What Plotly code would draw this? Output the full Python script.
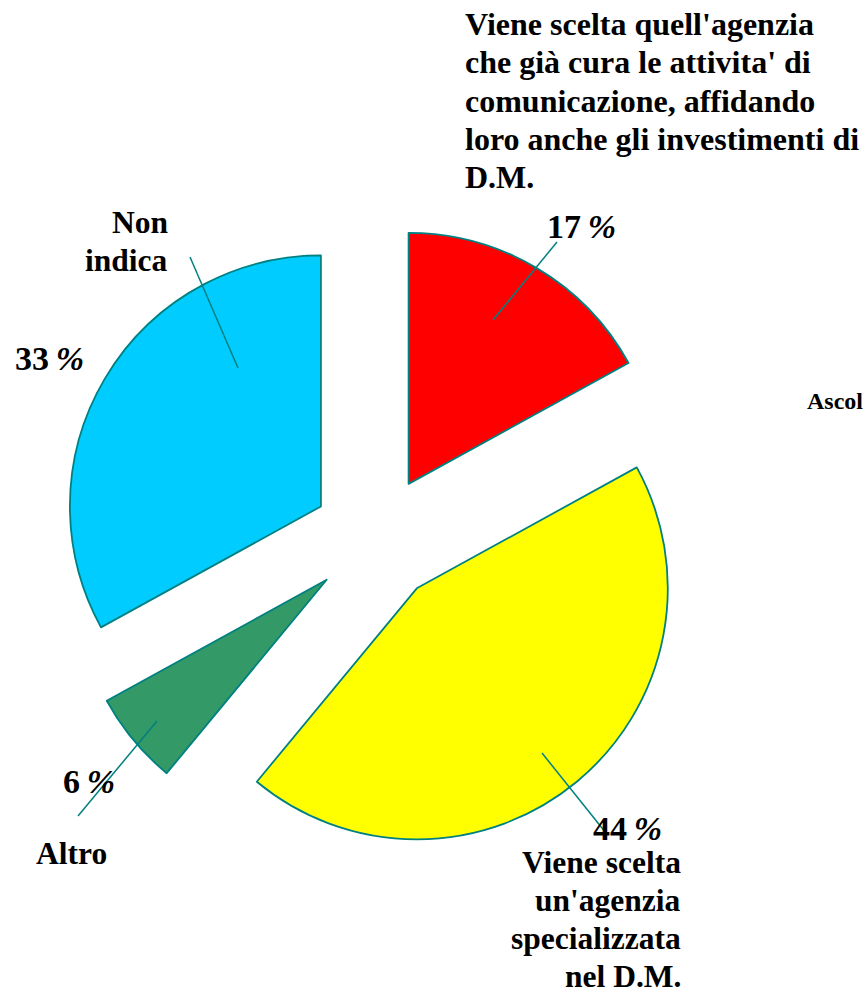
import plotly.graph_objects as go

# --- data -------------------------------------------------------------
categories = [
    "Viene scelta quell'agenzia che già cura le attivita' di comunicazione, affidando loro anche gli investimenti di D.M.",
    "Viene scelta un'agenzia specializzata nel D.M.",
    "Altro",
    "Non indica",
]
label_lines = [
    ["Viene scelta quell'agenzia", "che già cura le attivita' di",
     "comunicazione, affidando", "loro anche gli investimenti di", "D.M."],
    ["Viene scelta", "un'agenzia", "specializzata", "nel D.M."],
    ["Altro"],
    ["Non", "indica"],
]
values = [17, 44, 6, 33]
slice_colors = ["#FF0000", "#FFFF00", "#339966", "#00CCFF"]
side_note = "Ascol"

# --- page / styling ----------------------------------------------------
W, H = 865, 995
FONT = "Liberation Serif"
EDGE = "#008080"
PULL = 0.255
CX, CY, BOX = 376, 539, 630          # pie box centre and size (px)


def px(x):
    return x / W


def py(y):
    return 1 - y / H


fig = go.Figure(go.Pie(
    labels=categories,
    values=values,
    marker=dict(colors=slice_colors, line=dict(color=EDGE, width=1.8)),
    pull=[PULL] * len(values),
    sort=False,
    direction="clockwise",
    rotation=0,
    textinfo="none",
    hoverinfo="label+percent",
    showlegend=False,
    domain=dict(x=[px(CX - BOX / 2), px(CX + BOX / 2)],
                y=[py(CY + BOX / 2), py(CY - BOX / 2)]),
))

annotations = []
shapes = []


def text_block(lines, x, baseline, anchor, size, spacing):
    # one annotation per line so the line pitch can be set exactly
    for i, line in enumerate(lines):
        b = baseline + i * spacing
        annotations.append(dict(
            text=f"<b>{line}</b>", x=px(x), y=py(b - 0.34 * size),
            xref="paper", yref="paper", xanchor=anchor, yanchor="middle",
            showarrow=False, font=dict(family=FONT, size=size, color="black"),
        ))


def pct_text(v, x, baseline):
    annotations.append(dict(
        text=f"<b>{v}\u2009<i>%</i></b>", x=px(x), y=py(baseline - 0.34 * 34),
        xref="paper", yref="paper", xanchor="left", yanchor="middle",
        showarrow=False, font=dict(family=FONT, size=34, color="black"),
    ))


def leader(x0, y0, x1, y1):
    shapes.append(dict(type="line", xref="paper", yref="paper",
                       x0=px(x0), y0=py(y0), x1=px(x1), y1=py(y1),
                       line=dict(color=EDGE, width=1.5)))


# category labels
text_block(label_lines[0], 463, 35, "left", 32, 38.2)
text_block(label_lines[1], 683, 873, "right", 31.5, 38)
text_block(label_lines[2], 34, 864, "left", 31.5, 38.5)
text_block(label_lines[3], 170, 233, "right", 31.5, 38.5)

# percentage labels
pct_text(values[0], 545, 238)
pct_text(values[1], 591, 840)
pct_text(values[2], 61, 793)
pct_text(values[3], 13, 370)

# leader lines
leader(493, 320, 557, 242)
leader(542, 753, 606, 833)
leader(157, 721, 78, 816)
leader(238, 368, 190, 257)

text_block([side_note], 805, 409, "left", 24, 30)

fig.update_layout(
    width=W, height=H,
    margin=dict(l=0, r=0, t=0, b=0),
    paper_bgcolor="white", plot_bgcolor="white",
    annotations=annotations, shapes=shapes,
)

fig.write_html("out.html")
